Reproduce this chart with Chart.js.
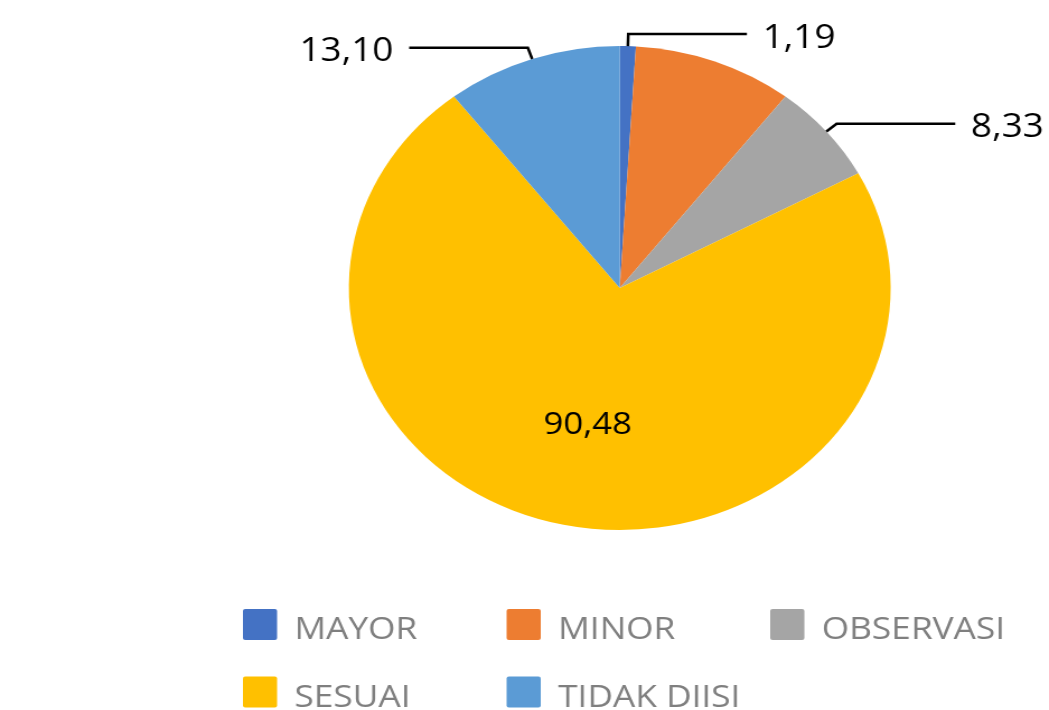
<!DOCTYPE html>
<html>
<head>
<meta charset="utf-8">
<script src="https://cdn.jsdelivr.net/npm/chart.js@4.4.1/dist/chart.umd.min.js"></script>
<style>
  html, body { margin: 0; padding: 0; background: #fff; }
  #wrap {
    width: 937px; height: 710px;
    transform: scaleX(1.1195); transform-origin: 0 0;
  }
</style>
</head>
<body>
<div id="wrap"><canvas id="pie"></canvas></div>
<script>
// kategori & nilai
var categories = ['MAYOR', 'MINOR', 'OBSERVASI', 'SESUAI', 'TIDAK DIISI'];
var values = [1.19, 11.9, 8.33, 90.48, 13.10];
var sliceColors = ['#4472C4', '#ED7D31', '#A5A5A5', '#FFC000', '#5B9BD5'];
var showValue = [true, false, true, true, true];   // MINOR tanpa label
var insideValue = [false, false, false, true, false];

function fmt(v) {
    return v.toFixed(2).replace('.', ',');
}

// label nilai dengan garis penunjuk
var sliceLabels = {
    id: 'sliceLabels',
    afterDatasetsDraw: function(chart) {
        var ctx = chart.ctx;
        var meta = chart.getDatasetMeta(0);
        meta.data.forEach(function(arc, i) {
            if (!showValue[i]) return;
            var p = arc.getProps(['x', 'y', 'startAngle', 'endAngle', 'outerRadius'], true);
            var mid = (p.startAngle + p.endAngle) / 2;
            var cos = Math.cos(mid), sin = Math.sin(mid);
            var text = fmt(values[i]);
            ctx.save();
            ctx.fillStyle = '#000';
            ctx.textBaseline = 'middle';
            if (insideValue[i]) {
                ctx.font = '31px "Open Sans"';
                ctx.textAlign = 'center';
                ctx.fillText(text, p.x + cos * p.outerRadius * 0.57, p.y + sin * p.outerRadius * 0.57 + 2);
            } else {
                var x0 = p.x + cos * p.outerRadius, y0 = p.y + sin * p.outerRadius;
                var x1 = p.x + cos * (p.outerRadius + 12), y1 = p.y + sin * (p.outerRadius + 12);
                var dir = cos >= 0 ? 1 : -1;
                var x2 = x1 + dir * 106;
                ctx.strokeStyle = '#000';
                ctx.lineWidth = 2.5;
                ctx.beginPath();
                ctx.moveTo(x0, y0);
                ctx.lineTo(x1, y1);
                ctx.lineTo(x2, y1);
                ctx.stroke();
                ctx.font = '33px "Open Sans"';
                ctx.textAlign = dir > 0 ? 'left' : 'right';
                ctx.fillText(text, x2 + dir * 14, y1 + 4);
            }
            ctx.restore();
        });
    }
};

// legenda grid 3 kolom
var gridLegend = {
    id: 'gridLegend',
    afterDraw: function(chart) {
        var ctx = chart.ctx;
        ctx.save();
        categories.forEach(function(name, i) {
            var col = i % 3, row = Math.floor(i / 3);
            var bx = 217 + col * 235.5;
            var by = 609 + row * 67.5;
            ctx.fillStyle = sliceColors[i];
            ctx.beginPath();
            if (ctx.roundRect) ctx.roundRect(bx, by, 30.5, 31, 2);
            else ctx.rect(bx, by, 30.5, 31);
            ctx.fill();
            ctx.fillStyle = '#7F7F7F';
            ctx.font = '31.5px "Open Sans"';
            ctx.textAlign = 'left';
            ctx.textBaseline = 'alphabetic';
            ctx.fillText(name, bx + 46, by + 30);
        });
        ctx.restore();
    }
};

var pieChart = new Chart(document.getElementById('pie'), {
    type: 'pie',
    data: {
        labels: categories,
        datasets: [{
            data: values,
            backgroundColor: sliceColors,
            borderWidth: 0
        }]
    },
    options: {
        responsive: true,
        maintainAspectRatio: false,
        animation: false,
        layout: {
            padding: { left: 311.6, right: 141.4, top: 46, bottom: 180 }
        },
        plugins: {
            legend: { display: false },
            tooltip: { enabled: false },
            title: { display: false }
        }
    },
    plugins: [sliceLabels, gridLegend]
});
</script>
</body>
</html>
